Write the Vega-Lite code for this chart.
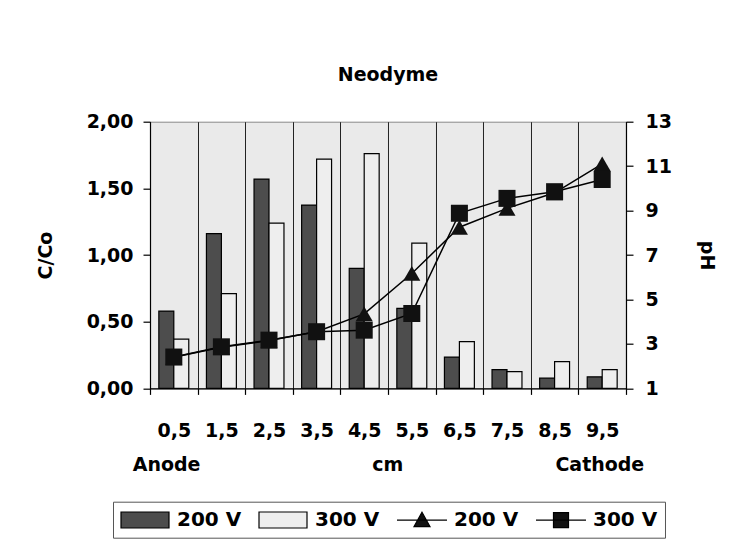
{
  "$schema": "https://vega.github.io/schema/vega-lite/v6.json",
  "width": 476,
  "height": 266.7,
  "autosize": {"type": "none"},
  "padding": {"left": 150, "top": 121.7, "right": 110, "bottom": 169.3},
  "background": "white",
  "title": {"text": "Neodyme", "font": "DejaVu Sans", "fontSize": 19, "fontWeight": "bold", "offset": 28, "color": "black"},
  "datasets": {
    "bars": [
      {"x": "0,5", "s": "b200", "cc": 0.58}, {"x": "0,5", "s": "b300", "cc": 0.37},
      {"x": "1,5", "s": "b200", "cc": 1.16}, {"x": "1,5", "s": "b300", "cc": 0.71},
      {"x": "2,5", "s": "b200", "cc": 1.57}, {"x": "2,5", "s": "b300", "cc": 1.24},
      {"x": "3,5", "s": "b200", "cc": 1.375}, {"x": "3,5", "s": "b300", "cc": 1.72},
      {"x": "4,5", "s": "b200", "cc": 0.9}, {"x": "4,5", "s": "b300", "cc": 1.76},
      {"x": "5,5", "s": "b200", "cc": 0.6}, {"x": "5,5", "s": "b300", "cc": 1.09},
      {"x": "6,5", "s": "b200", "cc": 0.235}, {"x": "6,5", "s": "b300", "cc": 0.35},
      {"x": "7,5", "s": "b200", "cc": 0.14}, {"x": "7,5", "s": "b300", "cc": 0.125},
      {"x": "8,5", "s": "b200", "cc": 0.077}, {"x": "8,5", "s": "b300", "cc": 0.2},
      {"x": "9,5", "s": "b200", "cc": 0.087}, {"x": "9,5", "s": "b300", "cc": 0.14}
    ],
    "ph": [
      {"x": "0,5", "s": "l200", "ph": 2.4}, {"x": "1,5", "s": "l200", "ph": 2.85},
      {"x": "2,5", "s": "l200", "ph": 3.15}, {"x": "3,5", "s": "l200", "ph": 3.55},
      {"x": "4,5", "s": "l200", "ph": 4.35}, {"x": "5,5", "s": "l200", "ph": 6.17},
      {"x": "6,5", "s": "l200", "ph": 8.25}, {"x": "7,5", "s": "l200", "ph": 9.1},
      {"x": "8,5", "s": "l200", "ph": 9.8}, {"x": "9,5", "s": "l200", "ph": 11.1},
      {"x": "0,5", "s": "l300", "ph": 2.41}, {"x": "1,5", "s": "l300", "ph": 2.87},
      {"x": "2,5", "s": "l300", "ph": 3.17}, {"x": "3,5", "s": "l300", "ph": 3.55},
      {"x": "4,5", "s": "l300", "ph": 3.62}, {"x": "5,5", "s": "l300", "ph": 4.37},
      {"x": "6,5", "s": "l300", "ph": 8.88}, {"x": "7,5", "s": "l300", "ph": 9.55},
      {"x": "8,5", "s": "l300", "ph": 9.85}, {"x": "9,5", "s": "l300", "ph": 10.4}
    ]
  },
  "config": {
    "font": "DejaVu Sans",
    "view": {"fill": "#eaeaea", "stroke": "#888888", "strokeWidth": 1},
    "axis": {
      "labelFont": "DejaVu Sans", "labelFontSize": 19, "labelFontWeight": "bold", "labelColor": "black",
      "titleFont": "DejaVu Sans", "titleFontSize": 19, "titleFontWeight": "bold", "titleColor": "black",
      "domainColor": "black", "domainWidth": 1.2, "tickColor": "black", "tickWidth": 1.2
    }
  },
  "layer": [
    {
      "data": {"name": "bars"},
      "mark": {"type": "bar", "stroke": "black", "strokeWidth": 1.2},
      "encoding": {
        "x": {
          "field": "x", "type": "nominal",
          "scale": {"domain": ["0,5", "1,5", "2,5", "3,5", "4,5", "5,5", "6,5", "7,5", "8,5", "9,5"], "paddingInner": 0, "paddingOuter": 0},
          "axis": {
            "title": "Anode\u00a0\u00a0\u00a0\u00a0\u00a0\u00a0\u00a0\u00a0\u00a0\u00a0\u00a0\u00a0\u00a0\u00a0\u00a0\u00a0\u00a0\u00a0\u00a0\u00a0\u00a0\u00a0\u00a0\u00a0\u00a0\u00a0cm\u00a0\u00a0\u00a0\u00a0\u00a0\u00a0\u00a0\u00a0\u00a0\u00a0\u00a0\u00a0\u00a0\u00a0\u00a0\u00a0\u00a0\u00a0\u00a0\u00a0\u00a0\u00a0\u00a0Cathode",
            "labelAngle": 0, "tickBand": "extent", "grid": true, "gridColor": "#222222", "gridWidth": 1,
            "tickSize": 6, "labelPadding": 27, "titlePadding": 15
          }
        },
        "xOffset": {"field": "s", "type": "nominal", "scale": {"domain": ["b200", "b300"], "paddingInner": 0, "paddingOuter": 0.59}},
        "y": {
          "field": "cc", "type": "quantitative",
          "scale": {"domain": [0, 2], "nice": false},
          "axis": {
            "title": "C/Co", "values": [0, 0.5, 1, 1.5, 2], "grid": false,
            "labelExpr": "replace(format(datum.value, '.2f'), '.', ',')",
            "tickSize": 7, "labelPadding": 10, "titlePadding": 31
          }
        },
        "color": {
          "field": "s", "type": "nominal",
          "scale": {"domain": ["b200", "b300", "l200", "l300"], "range": ["#4d4d4d", "#eeeeee", "#111111", "#111111"]},
          "legend": {
            "orient": "none", "legendX": -37, "legendY": 380, "direction": "horizontal", "columns": 4, "title": null,
            "labelFont": "DejaVu Sans", "labelFontSize": 20, "labelFontWeight": "bold", "labelColor": "black",
            "labelOffset": 21, "symbolOffset": 14, "columnPadding": 14, "symbolSize": 400, "strokeColor": "#555555", "padding": 7, "fillColor": "white",
            "symbolStrokeColor": "black", "symbolStrokeWidth": 1.2,
            "labelExpr": "substring(datum.label, 1) + ' V'",
            "encode": {
              "symbols": {
                "update": {
                  "shape": {"signal": "datum.value === 'l200' ? 'M-2.5,0H2.5M0,-0.8L0.8,0.65H-0.8Z' : datum.value === 'l300' ? 'M-2.5,0H2.5M-0.75,-0.75H0.75V0.75H-0.75Z' : 'M-2.4,-0.8H2.4V0.8H-2.4Z'"},
                  "stroke": {"value": "black"},
                  "strokeWidth": {"value": 1.2},
                  "opacity": {"value": 1}
                }
              }
            }
          }
        }
      }
    },
    {
      "data": {"name": "ph"},
      "layer": [
        {
          "mark": {"type": "line", "strokeWidth": 1.5, "color": "black"},
          "encoding": {
            "x": {"field": "x", "type": "nominal"},
            "y": {"field": "ph", "type": "quantitative"},
            "detail": {"field": "s", "type": "nominal"}
          }
        },
        {
          "mark": {"type": "point", "filled": true, "opacity": 1, "size": 290, "color": "#111111"},
          "encoding": {
            "x": {"field": "x", "type": "nominal"},
            "y": {"field": "ph", "type": "quantitative"},
            "shape": {"field": "s", "type": "nominal", "scale": {"domain": ["l200", "l300"], "range": ["triangle-up", "square"]}, "legend": null}
          }
        }
      ],
      "encoding": {
        "y": {
          "field": "ph", "type": "quantitative",
          "scale": {"domain": [1, 13], "nice": false},
          "axis": {
            "orient": "right", "title": "pH", "values": [1, 3, 5, 7, 9, 11, 13], "grid": false,
            "tickSize": 7, "labelPadding": 12, "titlePadding": 25
          }
        }
      }
    }
  ],
  "resolve": {"scale": {"y": "independent"}}
}
